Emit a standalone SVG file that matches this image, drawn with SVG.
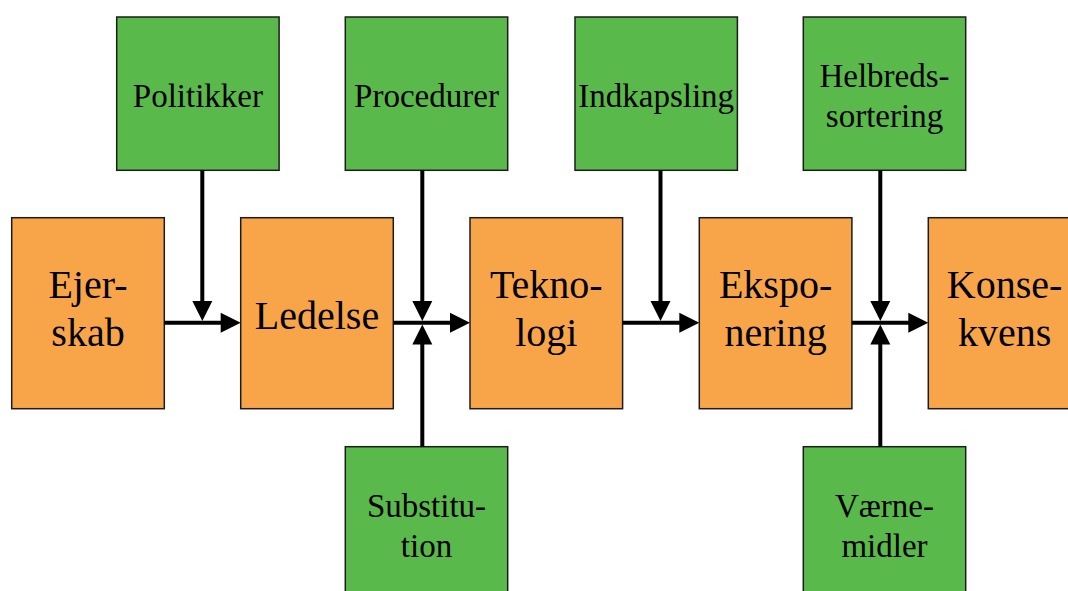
<svg xmlns="http://www.w3.org/2000/svg" width="1068" height="591" viewBox="0 0 1068 591">
  <defs>
    <style>
      .box { stroke: #1c1c1c; stroke-width: 1.5; }
      .stage { fill: #F8A54A; }
      .measure { fill: #5AB94B; }
      .big { font-size: 40px; fill: #000; text-anchor: middle; }
      .small { font-size: 33px; fill: #000; text-anchor: middle; }
      .link { fill: none; stroke: #000; stroke-width: 4; marker-end: url(#head); }
    </style>
    <marker id="head" markerUnits="userSpaceOnUse" markerWidth="20" markerHeight="20" refX="10" refY="10" orient="auto" overflow="visible">
      <path d="M0,0 L20,10 L0,20 Z" fill="#000"/>
    </marker>
  </defs>

  <rect width="1068" height="591" fill="#fff"/>

  <g font-family="'Liberation Serif', 'Times New Roman', Times, serif">
    <!-- main chain -->
    <g id="ejerskab">
      <rect class="box stage" x="11.7" y="217.7" width="152.6" height="191"/>
      <text class="big" x="88" y="298.3">Ejer-</text>
      <text class="big" x="88" y="346.3">skab</text>
    </g>
    <g id="ledelse">
      <rect class="box stage" x="240.7" y="217.7" width="152.6" height="191"/>
      <text class="big" x="317" y="329.3">Ledelse</text>
    </g>
    <g id="teknologi">
      <rect class="box stage" x="470" y="217.7" width="152.6" height="191"/>
      <text class="big" x="546.3" y="298.3">Tekno-</text>
      <text class="big" x="546.3" y="346.3">logi</text>
    </g>
    <g id="eksponering">
      <rect class="box stage" x="699.3" y="217.7" width="152.6" height="191"/>
      <text class="big" x="775.6" y="298.3">Ekspo-</text>
      <text class="big" x="775.6" y="346.3">nering</text>
    </g>
    <g id="konsekvens">
      <rect class="box stage" x="928.3" y="217.7" width="152.6" height="191"/>
      <text class="big" x="1004.6" y="298.3">Konse-</text>
      <text class="big" x="1004.6" y="346.3">kvens</text>
    </g>

    <!-- measures above -->
    <g id="politikker">
      <rect class="box measure" x="116.7" y="17" width="162.4" height="153.3"/>
      <text class="small" x="197.9" y="106.7">Politikker</text>
    </g>
    <g id="procedurer">
      <rect class="box measure" x="345.3" y="17" width="162.4" height="153.3"/>
      <text class="small" x="426.5" y="107">Procedurer</text>
    </g>
    <g id="indkapsling">
      <rect class="box measure" x="575" y="17" width="162.4" height="153.3"/>
      <text class="small" x="656.2" y="107">Indkapsling</text>
    </g>
    <g id="helbredssortering">
      <rect class="box measure" x="803.3" y="17" width="162.4" height="153.3"/>
      <text class="small" x="884.5" y="86.7">Helbreds-</text>
      <text class="small" x="884.5" y="126.7">sortering</text>
    </g>

    <!-- measures below -->
    <g id="substitution">
      <rect class="box measure" x="345.3" y="446.7" width="162.4" height="153.3"/>
      <text class="small" x="426.5" y="516.7">Substitu-</text>
      <text class="small" x="426.5" y="556.7">tion</text>
    </g>
    <g id="vaernemidler">
      <rect class="box measure" x="803.3" y="446.7" width="162.4" height="153.3"/>
      <text class="small" x="884.5" y="516.7">Værne-</text>
      <text class="small" x="884.5" y="556.7">midler</text>
    </g>
  </g>

  <!-- connectors -->
  <g id="connectors">
    <path class="link" d="M164.3,322.7 H230.7"/>
    <path class="link" d="M393.3,322.7 H460"/>
    <path class="link" d="M622.6,322.7 H689.3"/>
    <path class="link" d="M851.9,322.7 H918.3"/>
    <path class="link" d="M202.3,170.3 V311"/>
    <path class="link" d="M422.3,170.3 V311"/>
    <path class="link" d="M660.5,170.3 V311"/>
    <path class="link" d="M880.3,170.3 V311"/>
    <path class="link" d="M422.3,446.7 V334.5"/>
    <path class="link" d="M880.3,446.7 V334.5"/>
  </g>
</svg>
